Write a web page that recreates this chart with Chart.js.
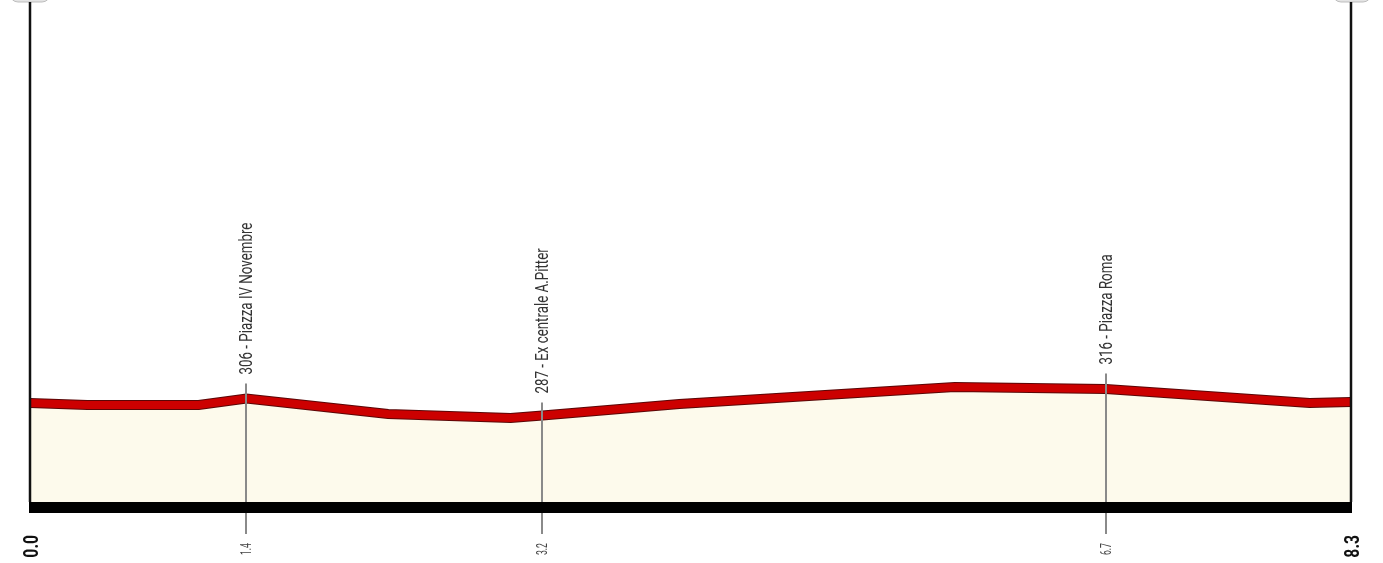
<!DOCTYPE html>
<html>
<head>
<meta charset="utf-8">
<script src="https://cdn.jsdelivr.net/npm/chart.js@4.4.0/dist/chart.umd.min.js"></script>
<style>
html, body { margin: 0; padding: 0; background: #fff; }
#wrap { width: 1383px; height: 563px; position: relative; }
</style>
</head>
<body>
<div id="wrap"><canvas id="profile" width="1383" height="563"></canvas></div>
<script>
//// profile data (km / metres)
let distanceKm = [0, 0.36, 1.06, 1.36, 2.25, 3.02, 3.22, 4.08, 5.81, 6.76, 8.04, 8.3];
let elevation = [299, 297, 297, 303.5, 288, 284, 286.5, 298, 315, 313, 299, 300];

//// bottom km ticks
let tickValues = [0, 1.36, 3.22, 6.76, 8.3];
let tickLabels = ['0.0', '1.4', '3.2', '6.7', '8.3'];

//// named points along the route
let pointKm = [1.36, 3.22, 6.76];
let pointElevation = [306, 287, 316];
let pointNames = ['Piazza IV Novembre', 'Ex centrale A.Pitter', 'Piazza Roma'];

let profilePoints = distanceKm.map(function(km, i) {
    return { x: km, y: elevation[i] };
});

// draws condensed text rotated bottom-to-top
function drawUpText(ctx, text, x, y, align, font, squeeze, color) {
    ctx.save();
    ctx.translate(x, y);
    ctx.rotate(-Math.PI / 2);
    ctx.scale(squeeze, 1);
    ctx.font = font;
    ctx.fillStyle = color;
    ctx.textAlign = align;
    ctx.textBaseline = 'middle';
    ctx.fillText(text, 0, 0);
    ctx.restore();
}

let profileDecor = {
    id: 'profileDecor',
    afterDatasetsDraw: function(chart) {
        let ctx = chart.ctx;
        let area = chart.chartArea;
        let xs = chart.scales.x;
        let ys = chart.scales.y;

        // little grey tabs cut off at the top
        ctx.save();
        ctx.fillStyle = '#e4e4e4';
        ctx.strokeStyle = '#bdbdbd';
        ctx.lineWidth = 1;
        ctx.beginPath();
        ctx.roundRect(10, -16, 40, 18, 8);
        ctx.roundRect(1333, -16, 38, 18, 8);
        ctx.fill();
        ctx.stroke();
        ctx.restore();

        // marker lines for the named points
        ctx.save();
        ctx.strokeStyle = '#8a8a8a';
        ctx.lineWidth = 2;
        for (let i = 0; i < pointKm.length; i++) {
            let px = Math.round(xs.getPixelForValue(pointKm[i]));
            let top = ys.getPixelForValue(pointElevation[i]) - 12.5;
            ctx.beginPath();
            ctx.moveTo(px, top);
            ctx.lineTo(px, area.bottom + 32);
            ctx.stroke();
        }
        ctx.restore();

        // black base bar
        ctx.save();
        ctx.fillStyle = '#000';
        ctx.fillRect(area.left - 1, area.bottom, area.right - area.left + 2, 11);

        // side axis lines
        ctx.strokeStyle = '#111';
        ctx.lineWidth = 2.5;
        ctx.beginPath();
        ctx.moveTo(area.left, area.top);
        ctx.lineTo(area.left, area.bottom);
        ctx.moveTo(area.right, area.top);
        ctx.lineTo(area.right, area.bottom);
        ctx.stroke();
        ctx.restore();

        // point labels
        for (let i = 0; i < pointKm.length; i++) {
            let px = Math.round(xs.getPixelForValue(pointKm[i]));
            let top = ys.getPixelForValue(pointElevation[i]) - 12.5;
            drawUpText(ctx, pointElevation[i] + ' - ' + pointNames[i], px + 1, top - 9,
                'left', '18px Roboto', 0.74, '#333');
        }

        // km tick labels
        for (let i = 0; i < tickValues.length; i++) {
            let px = xs.getPixelForValue(tickValues[i]);
            let endLabel = (i === 0 || i === tickValues.length - 1);
            if (endLabel) {
                drawUpText(ctx, tickLabels[i], px + 2.5, area.bottom + 33,
                    'right', 'bold 21px Roboto', 0.75, '#111');
            } else {
                drawUpText(ctx, tickLabels[i], px + 1.5, area.bottom + 41,
                    'right', '14px Roboto', 0.62, '#444');
            }
        }
    }
};

let ctx = document.getElementById('profile').getContext('2d');
new Chart(ctx, {
    type: 'line',
    data: {
        datasets: [
            {
                data: profilePoints,
                borderColor: '#cc0000',
                borderWidth: 8,
                fill: false,
                pointRadius: 0,
                tension: 0,
                clip: 0
            },
            {
                data: profilePoints,
                borderColor: '#5a0606',
                borderWidth: 10,
                backgroundColor: '#fdfaec',
                fill: 'start',
                pointRadius: 0,
                tension: 0,
                clip: 0
            }
        ]
    },
    options: {
        responsive: false,
        animation: false,
        events: [],
        layout: { padding: { left: 30, right: 32, top: 2, bottom: 0 } },
        plugins: {
            legend: { display: false },
            tooltip: { enabled: false }
        },
        scales: {
            x: {
                type: 'linear',
                min: 0,
                max: 8.3,
                grid: { display: false },
                border: { display: false },
                ticks: { display: false },
                afterBuildTicks: function(scale) {
                    scale.ticks = tickValues.map(function(v) { return { value: v }; });
                },
                afterFit: function(scale) {
                    scale.height = 61;
                }
            },
            y: {
                display: false,
                min: 200,
                max: 700
            }
        }
    },
    plugins: [profileDecor]
});
</script>
</body>
</html>
